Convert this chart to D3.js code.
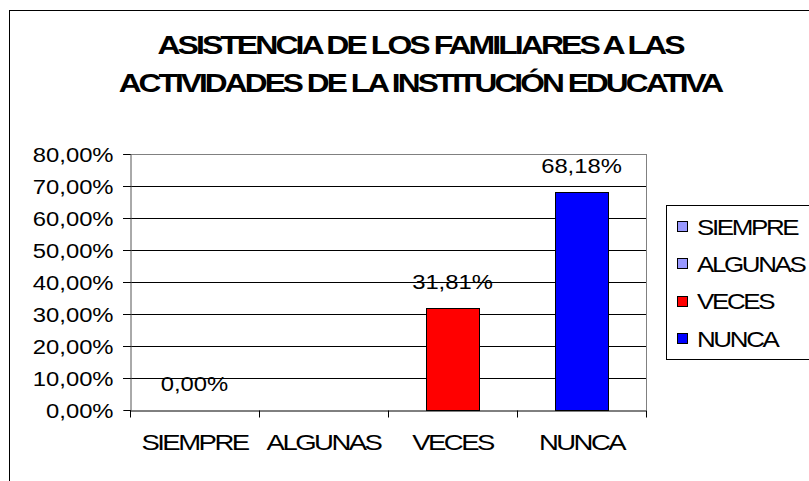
<!DOCTYPE html>
<html>
<head>
<meta charset="utf-8">
<script src="https://cdn.jsdelivr.net/npm/d3@7"></script>
<style>
  html, body { margin: 0; padding: 0; background: #fff; }
  svg { display: block; }
  text { font-family: "Liberation Sans", Arial, sans-serif; fill: #000; }
</style>
</head>
<body>
<svg id="chart" width="809" height="481"></svg>
<script>
// ---- data ----
const titleLines = ["ASISTENCIA DE LOS FAMILIARES A LAS", "ACTIVIDADES DE LA INSTITUCIÓN EDUCATIVA"];
const categories = ["SIEMPRE", "ALGUNAS", "VECES", "NUNCA"];
const values = [0.00, 0.00, 31.81, 68.18];
const valueLabels = ["0,00%", null, "31,81%", "68,18%"];
const barColors = ["#9999FF", "#9999FF", "#FF0000", "#0000FF"];
const yTicks = [0, 10, 20, 30, 40, 50, 60, 70, 80];
const yTickLabels = ["0,00%", "10,00%", "20,00%", "30,00%", "40,00%", "50,00%", "60,00%", "70,00%", "80,00%"];

// ---- layout ----
const svg = d3.select("#chart");
const plot = { left: 130, right: 646, top: 154, bottom: 410 };
const stretch = 1.19;

// horizontal scaling around the text's anchor x
function scaleX(sel, kOrTarget, isTarget) {
  sel.each(function () {
    const t = d3.select(this);
    const ax = +t.attr("x") || 0;
    const w = this.getBBox().width;
    const k = isTarget ? kOrTarget / w : kOrTarget;
    t.attr("transform", `translate(${ax},0) scale(${k},1) translate(${-ax},0)`);
  });
}

// outer frame
svg.append("rect")
  .attr("x", 9.5).attr("y", 10.5).attr("width", 900).attr("height", 600)
  .attr("fill", "none").attr("stroke", "#000").attr("stroke-width", 1);

// title
const titleY = [54, 92];
const titleW = [528, 606];
const title = svg.append("g");
titleLines.forEach((t, i) => {
  title.append("text")
    .attr("x", 420).attr("y", titleY[i])
    .attr("text-anchor", "middle")
    .attr("font-size", 26).attr("font-weight", "bold")
    .style("letter-spacing", "-2.4px")
    .text(t)
    .call(scaleX, titleW[i], true);
});

// scales
const x = d3.scaleBand().domain(categories).range([plot.left, plot.right]).paddingInner(0).paddingOuter(0);
const y = d3.scaleLinear().domain([0, 80]).range([plot.bottom, plot.top]);

// gridlines
svg.append("g").selectAll("line")
  .data(yTicks.filter(v => v > 0 && v < 80))
  .join("line")
  .attr("x1", plot.left - 7).attr("x2", plot.right)
  .attr("y1", d => Math.round(y(d)) + 0.5).attr("y2", d => Math.round(y(d)) + 0.5)
  .attr("stroke", "#000").attr("stroke-width", 1);

// top border (80%) gray, with tick
svg.append("line")
  .attr("x1", plot.left).attr("x2", plot.right)
  .attr("y1", Math.round(y(80)) + 0.5).attr("y2", Math.round(y(80)) + 0.5)
  .attr("stroke", "#808080");
svg.append("line")
  .attr("x1", plot.left - 7).attr("x2", plot.left)
  .attr("y1", Math.round(y(80)) + 0.5).attr("y2", Math.round(y(80)) + 0.5)
  .attr("stroke", "#000");
// right border gray
svg.append("line")
  .attr("x1", plot.right + 0.5).attr("x2", plot.right + 0.5)
  .attr("y1", plot.top).attr("y2", plot.bottom)
  .attr("stroke", "#808080");

// y axis
const yAxis = d3.axisLeft(y).tickValues(yTicks).tickSize(7).tickPadding(10)
  .tickFormat((d, i) => yTickLabels[i]);
const gy = svg.append("g").attr("transform", `translate(${plot.left + 0.5},0)`).call(yAxis);
gy.select(".domain").attr("stroke", "#555");
gy.selectAll(".tick line").attr("stroke", "#000");
gy.selectAll(".tick text")
  .attr("font-size", 20).attr("font-family", "Liberation Sans, Arial, sans-serif")
  .attr("fill", "#000").attr("dy", "0.35em")
  .call(scaleX, stretch);

// bars
const barW = x.bandwidth() * 0.41;
svg.append("g").selectAll("rect")
  .data(categories.map((c, i) => ({ c, v: values[i], color: barColors[i] })).filter(d => d.v > 0))
  .join("rect")
  .attr("x", d => Math.round(x(d.c) + (x.bandwidth() - barW) / 2) + 0.5)
  .attr("y", d => Math.round(y(d.v)) + 0.5)
  .attr("width", Math.round(barW))
  .attr("height", d => Math.round(y(0)) - Math.round(y(d.v)))
  .attr("fill", d => d.color)
  .attr("stroke", "#000").attr("stroke-width", 1);

// x axis
const xAxis = d3.axisBottom(x).tickSize(0).tickPadding(24);
const gx = svg.append("g").attr("transform", `translate(0,${Math.round(y(0)) + 0.5})`).call(xAxis);
gx.select(".domain").attr("stroke", "#000");
gx.selectAll(".tick text")
  .attr("font-size", 22).attr("font-family", "Liberation Sans, Arial, sans-serif")
  .style("letter-spacing", "-2px")
  .attr("fill", "#000")
  .call(scaleX, 1.25);
// category boundary ticks
const bounds = categories.map(c => x(c)).concat([x(categories[categories.length - 1]) + x.bandwidth()]);
gx.selectAll(".bound").data(bounds).join("line")
  .attr("class", "bound")
  .attr("x1", d => Math.round(d) + 0.5).attr("x2", d => Math.round(d) + 0.5)
  .attr("y1", 0).attr("y2", 7)
  .attr("stroke", "#000");

// data labels
svg.append("g").selectAll("text")
  .data(categories.map((c, i) => ({ c, v: values[i], label: valueLabels[i] })).filter(d => d.label))
  .join("text")
  .attr("x", d => x(d.c) + x.bandwidth() / 2)
  .attr("y", d => y(d.v) - 26)
  .attr("dy", "0.35em")
  .attr("text-anchor", "middle")
  .attr("font-size", 20)
  .text(d => d.label)
  .call(scaleX, stretch);

// legend
const legend = svg.append("g");
legend.append("rect")
  .attr("x", 666.5).attr("y", 205.5).attr("width", 200).attr("height", 154)
  .attr("fill", "#fff").attr("stroke", "#000");
const legY = d3.scalePoint().domain(categories).range([227, 339]);
categories.forEach((c, i) => {
  legend.append("rect")
    .attr("x", 677.5).attr("y", Math.round(legY(c)) - 5.5)
    .attr("width", 10).attr("height", 10)
    .attr("fill", barColors[i]).attr("stroke", "#000");
  legend.append("text")
    .attr("x", 697).attr("y", legY(c)).attr("dy", "0.35em")
    .attr("font-size", 22)
    .style("letter-spacing", "-2px")
    .text(c)
    .call(scaleX, 1.18);
});
</script>
</body>
</html>
